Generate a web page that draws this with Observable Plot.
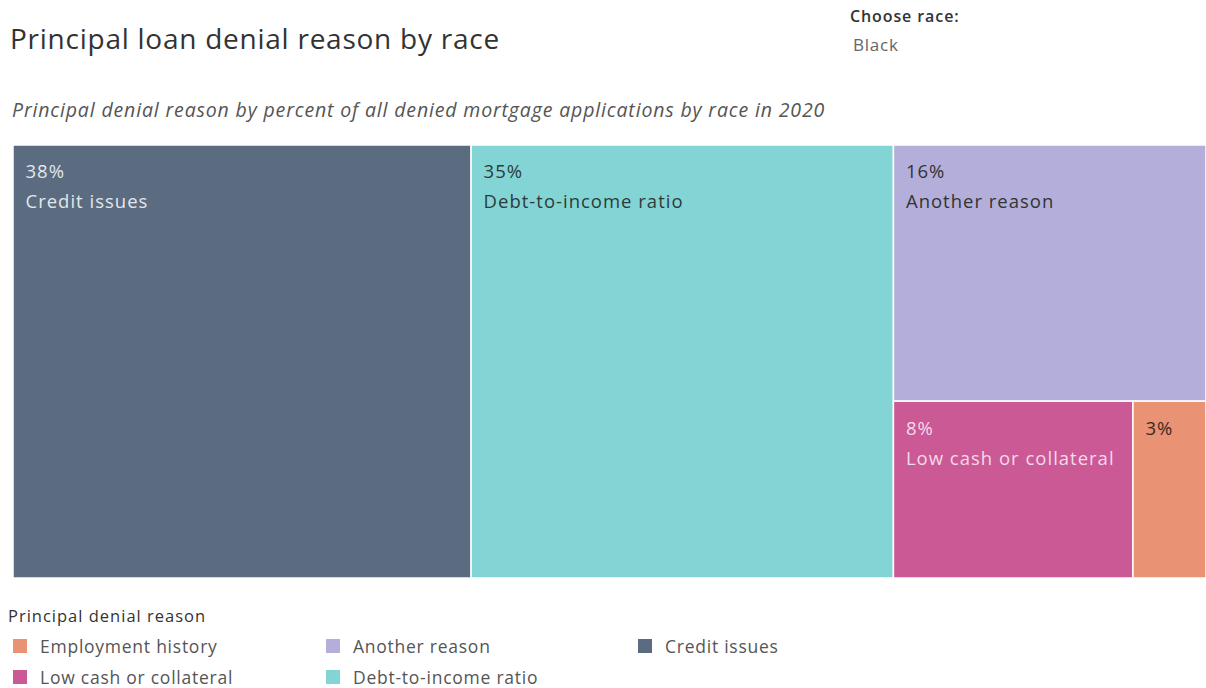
<!DOCTYPE html>
<html>
<head>
<meta charset="utf-8">
<script src="https://cdn.jsdelivr.net/npm/d3@7"></script>
<script src="https://cdn.jsdelivr.net/npm/@observablehq/plot@0.6"></script>
<style>
  html, body { margin: 0; padding: 0; background: #fff; }
  body { width: 1206px; height: 688px; position: relative; overflow: hidden; font-family: "Open Sans", "Noto Sans", sans-serif; }
  #header { position: relative; height: 145px; }
  #title { position: absolute; left: 10px; top: 19px; font-size: 28px; letter-spacing: 0.75px; color: #333; white-space: nowrap; }
  #subtitle { position: absolute; left: 12px; top: 96px; font-size: 19.5px; letter-spacing: 0.85px; font-style: italic; color: #555; white-space: nowrap; }
  #chooseLabel { position: absolute; left: 850px; top: 5px; font-size: 16px; letter-spacing: 0.9px; color: #333; font-weight: 600; }
  #chooseValue { position: absolute; left: 853px; top: 33px; font-size: 17px; letter-spacing: 0.8px; color: #666; }
  #legend { position: absolute; left: 8px; top: 604px; }
  #legendTitle { font-size: 16.5px; letter-spacing: 1px; color: #333; margin-bottom: 3px; }
  #legendItems { display: grid; grid-auto-flow: column; grid-template-rows: 31px 31px; grid-template-columns: 313px 312px 200px; margin-left: 5px; }
  .item { display: flex; align-items: center; font-size: 17.5px; letter-spacing: 0.75px; color: #555; }
  .sw { width: 14px; height: 14px; margin-right: 13px; flex: none; }
</style>
</head>
<body>
<div id="header">
  <div id="title"></div>
  <div id="subtitle"></div>
  <div id="chooseLabel"></div>
  <div id="chooseValue"></div>
</div>
<div id="chart"></div>
<div id="legend"><div id="legendTitle"></div><div id="legendItems"></div></div>
<script>
// ---- data ----
const reasons = ["Credit issues", "Debt-to-income ratio", "Another reason", "Low cash or collateral", "Employment history"];
const shares = [38.4, 35.4, 15.5, 8.2, 2.5];
const colors = ["#5b6b80", "#83d5d5", "#b3afda", "#ca5996", "#e99374"];
const labelColors = ["#e3e7ec", "#2f3a3a", "#333333", "#f3dbe8", "#3a2a24"];
const legendOrder = ["Employment history", "Low cash or collateral", "Another reason", "Debt-to-income ratio", "Credit issues"];
const titleText = "Principal loan denial reason by race";
const subtitleText = "Principal denial reason by percent of all denied mortgage applications by race in 2020";
const legendTitleText = "Principal denial reason";
const chooseLabelText = "Choose race:";
const chooseValueText = "Black";

document.getElementById("title").textContent = titleText;
document.getElementById("subtitle").textContent = subtitleText;
document.getElementById("chooseLabel").textContent = chooseLabelText;
document.getElementById("chooseValue").textContent = chooseValueText;
document.getElementById("legendTitle").textContent = legendTitleText;

// ---- layout ----
const W = 1193, H = 433;
const rows = reasons.map((r, i) => ({reason: r, value: shares[i], color: colors[i], labelColor: labelColors[i]}));
const root = d3.hierarchy({children: rows}).sum(d => d.value || 0);
d3.treemap().tile(d3.treemapSquarify.ratio(1)).size([W, H])(root);
const cells = root.leaves().map(n => ({...n.data, x0: n.x0, x1: n.x1, y0: n.y0, y1: n.y1,
  pct: Math.round(n.data.value) + "%",
  showName: (n.x1 - n.x0) > n.data.reason.length * 9 + 20}));

const plot = Plot.plot({
  width: 1206,
  height: H,
  marginLeft: 13, marginRight: 0, marginTop: 0, marginBottom: 0,
  x: {domain: [0, W], axis: null},
  y: {domain: [0, H], range: [0, H], axis: null},
  color: {domain: reasons, range: colors},
  style: {fontFamily: "'Open Sans', 'Noto Sans', sans-serif", letterSpacing: "1px"},
  marks: [
    Plot.rect(cells, {x1: "x0", x2: "x1", y1: "y0", y2: "y1", fill: "reason", stroke: "#fff", strokeWidth: 1.5}),
    Plot.text(cells, {x: "x0", y: "y0", text: "pct", fill: "labelColor", textAnchor: "start", lineAnchor: "middle", dx: 12, dy: 27, fontSize: 18.5}),
    Plot.text(cells.filter(d => d.showName), {x: "x0", y: "y0", text: "reason", fill: "labelColor", textAnchor: "start", lineAnchor: "middle", dx: 12, dy: 57, fontSize: 18.5})
  ]
});
document.getElementById("chart").appendChild(plot);

// ---- legend ----
const li = document.getElementById("legendItems");
legendOrder.forEach(name => {
  const div = document.createElement("div");
  div.className = "item";
  const sw = document.createElement("span");
  sw.className = "sw";
  sw.style.background = colors[reasons.indexOf(name)];
  const t = document.createElement("span");
  t.textContent = name;
  div.appendChild(sw); div.appendChild(t);
  li.appendChild(div);
});
</script>
</body>
</html>
